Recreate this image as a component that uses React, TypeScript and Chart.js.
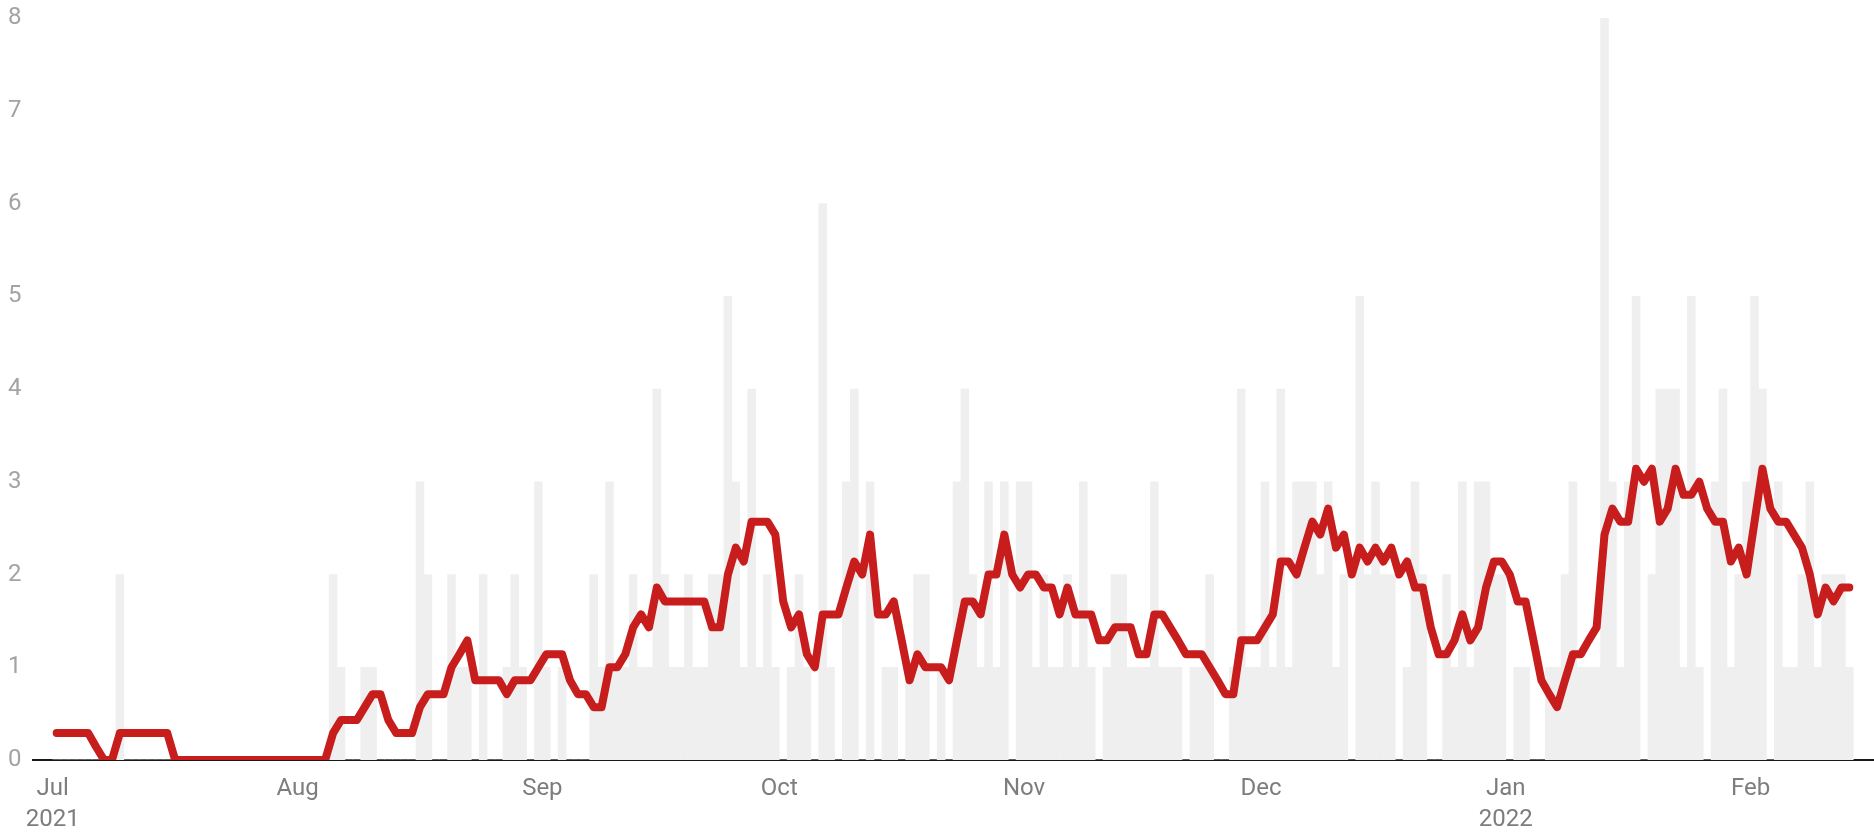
import { useEffect, useRef } from 'react';
import { Chart, registerables } from 'chart.js';

Chart.register(...registerables);

// First day shown on the chart; every array below holds one value per day from here.
const startDate = '2021-07-01';

// Daily counts (grey bars), 1 Jul 2021 – 13 Feb 2022
const dailyCounts = [
  0, 0, 0, 0, 0, 0, 0, 0, 2, 0,
  0, 0, 0, 0, 0, 0, 0, 0, 0, 0,
  0, 0, 0, 0, 0, 0, 0, 0, 0, 0,
  0, 0, 0, 0, 0,
  2, 1, 0, 0, 1, 1, 0, 0, 0, 0,
  0, 3, 2, 0, 0, 2, 1, 1, 0, 2,
  0, 0, 1, 2, 1, 0, 3, 1, 0, 1,
  0, 0, 0, 2, 1, 3, 1, 1, 2, 1,
  1, 4, 2, 1, 1, 2, 1, 1, 2, 2,
  5, 3, 1, 4, 1, 2, 1, 0, 1, 2,
  1, 0, 6, 1, 0, 3, 4, 0, 3, 0,
  1, 1, 0, 1, 2, 2, 0, 1, 0, 3,
  4, 2, 1, 3, 1, 3, 0, 3, 3, 1,
  2, 1, 1, 2, 1, 3, 1, 0, 1, 2,
  2, 1, 1, 1, 3, 1, 1, 1, 0, 1,
  1, 2, 0, 0, 1, 4, 1, 1, 3, 1,
  4, 1, 3, 3, 3, 2, 3, 1, 2, 0,
  5, 2, 3, 2, 2, 0, 1, 3, 2, 0,
  0, 2, 1, 3, 1, 3, 3, 2, 2, 0,
  1, 1, 0, 0, 1, 1, 2, 3, 1, 1,
  1, 8, 3, 1, 3, 5, 0, 2, 4, 4,
  4, 1, 5, 1, 0, 3, 4, 1, 2, 3,
  5, 4, 0, 3, 1, 1, 2, 3, 1, 2,
  2, 2, 1,
];

// 7-day average (red line), same days
const sevenDayAverage = [
  0.29, 0.29, 0.29, 0.29, 0.29, 0.14, 0, 0, 0.29, 0.29,
  0.29, 0.29, 0.29, 0.29, 0.29, 0, 0, 0, 0, 0,
  0, 0, 0, 0, 0, 0, 0, 0, 0, 0,
  0, 0, 0, 0, 0,
  0.29, 0.43, 0.43, 0.43, 0.57, 0.71, 0.71, 0.43, 0.29, 0.29,
  0.29, 0.57, 0.71, 0.71, 0.71, 1, 1.14, 1.29, 0.86, 0.86,
  0.86, 0.86, 0.71, 0.86, 0.86, 0.86, 1, 1.14, 1.14, 1.14,
  0.86, 0.71, 0.71, 0.57, 0.57, 1, 1, 1.14, 1.43, 1.57,
  1.43, 1.86, 1.71, 1.71, 1.71, 1.71, 1.71, 1.71, 1.43, 1.43,
  2, 2.29, 2.14, 2.57, 2.57, 2.57, 2.43, 1.71, 1.43, 1.57,
  1.14, 1, 1.57, 1.57, 1.57, 1.86, 2.14, 2, 2.43, 1.57,
  1.57, 1.71, 1.29, 0.86, 1.14, 1, 1, 1, 0.86, 1.29,
  1.71, 1.71, 1.57, 2, 2, 2.43, 2, 1.86, 2, 2,
  1.86, 1.86, 1.57, 1.86, 1.57, 1.57, 1.57, 1.29, 1.29, 1.43,
  1.43, 1.43, 1.14, 1.14, 1.57, 1.57, 1.43, 1.29, 1.14, 1.14,
  1.14, 1, 0.86, 0.71, 0.71, 1.29, 1.29, 1.29, 1.43, 1.57,
  2.14, 2.14, 2, 2.29, 2.57, 2.43, 2.71, 2.29, 2.43, 2,
  2.29, 2.14, 2.29, 2.14, 2.29, 2, 2.14, 1.86, 1.86, 1.43,
  1.14, 1.14, 1.29, 1.57, 1.29, 1.43, 1.86, 2.14, 2.14, 2,
  1.71, 1.71, 1.29, 0.86, 0.71, 0.57, 0.86, 1.14, 1.14, 1.29,
  1.43, 2.43, 2.71, 2.57, 2.57, 3.14, 3, 3.14, 2.57, 2.71,
  3.14, 2.86, 2.86, 3, 2.71, 2.57, 2.57, 2.14, 2.29, 2,
  2.57, 3.14, 2.71, 2.57, 2.57, 2.43, 2.29, 2, 1.57, 1.86,
  1.71, 1.86, 1.86,
];

// Month ticks on the x axis
const tickDates = [
  '2021-07-01', '2021-08-01', '2021-09-01', '2021-10-01',
  '2021-11-01', '2021-12-01', '2022-01-01', '2022-02-01',
];
const tickLabels: (string | string[])[] = [
  ['Jul', '2021'], 'Aug', 'Sep', 'Oct', 'Nov', 'Dec', ['Jan', '2022'], 'Feb',
];

const MS_PER_DAY = 86400000;
const dayIndex = (iso: string) =>
  Math.round((Date.parse(iso) - Date.parse(startDate)) / MS_PER_DAY);
const tickValues = tickDates.map(dayIndex);

export default function App() {
  const canvasRef = useRef<HTMLCanvasElement | null>(null);

  useEffect(() => {
    if (!canvasRef.current) return;
    Chart.defaults.font.family = 'Roboto, "Noto Sans", sans-serif';

    const barPoints = dailyCounts.map((v, i) => ({ x: i + 0.5, y: v }));
    const linePoints = sevenDayAverage.map((v, i) => ({ x: i + 0.5, y: v }));

    const chart = new Chart(canvasRef.current, {
      type: 'bar',
      data: {
        datasets: [
          {
            type: 'line',
            label: '7-day average',
            data: linePoints,
            borderColor: '#c71e1d',
            backgroundColor: '#c71e1d',
            borderWidth: 8,
            pointRadius: 0,
            pointHoverRadius: 0,
            tension: 0,
            fill: false,
            borderJoinStyle: 'round',
            borderCapStyle: 'round',
            order: 0,
          } as any,
          {
            type: 'bar',
            label: 'Daily',
            data: barPoints,
            backgroundColor: '#efefef',
            borderWidth: 0,
            barPercentage: 1,
            categoryPercentage: 1,
            order: 1,
          } as any,
        ],
      },
      options: {
        animation: false,
        responsive: true,
        maintainAspectRatio: false,
        layout: { padding: { left: 8, right: 1, top: 18, bottom: 0 } },
        plugins: {
          legend: { display: false },
          tooltip: { enabled: false },
        },
        scales: {
          x: {
            type: 'linear',
            min: -2.5,
            max: 230.5,
            offset: false,
            z: 1,
            grid: { display: false, drawTicks: false },
            border: { display: true, color: '#1a1a1a', width: 2 },
            afterBuildTicks: (scale: any) => {
              scale.ticks = tickValues.map((v) => ({ value: v }));
            },
            afterFit: (scale: any) => {
              scale.height = 72;
            },
            ticks: {
              autoSkip: false,
              maxRotation: 0,
              minRotation: 0,
              padding: 13,
              color: '#7d7d7d',
              font: { size: 24, lineHeight: 1.3 },
              callback: (value: any) => {
                const i = tickValues.indexOf(Number(value));
                return i >= 0 ? tickLabels[i] : '';
              },
            },
          },
          y: {
            min: 0,
            max: 8,
            grid: { display: false, drawTicks: false },
            border: { display: false },
            afterFit: (scale: any) => {
              scale.width = 25;
            },
            ticks: {
              stepSize: 1,
              padding: 0,
              crossAlign: 'far',
              color: '#a3a3a3',
              font: { size: 24 },
            },
          },
        },
      } as any,
    });

    return () => chart.destroy();
  }, []);

  return (
    <div style={{ position: 'absolute', left: 0, top: 0, width: 1874, height: 832, background: '#ffffff' }}>
      <canvas ref={canvasRef} />
    </div>
  );
}
